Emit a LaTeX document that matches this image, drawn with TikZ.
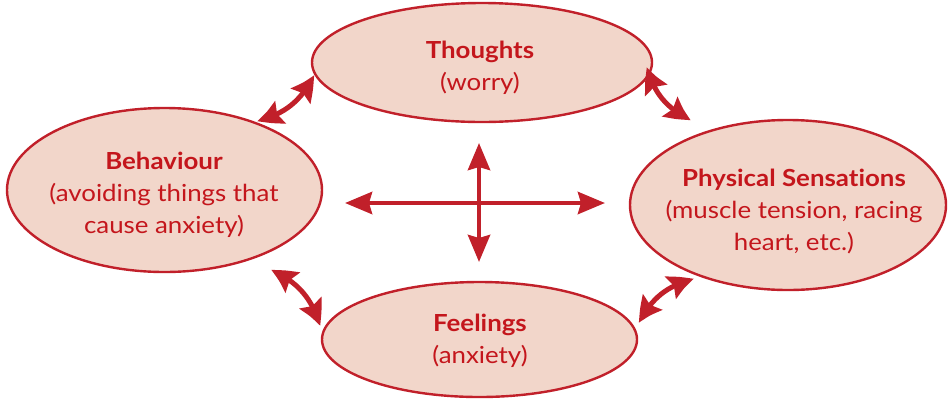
\documentclass[tikz,border=0pt]{standalone}
\usepackage{fontspec}
\setmainfont[Ligatures={NoCommon},FakeStretch=1.1]{Lato}
\usetikzlibrary{shapes.geometric,arrows.meta,bending}
\definecolor{cbtred}{HTML}{C1202A}
\definecolor{cbtfill}{HTML}{F2D6CA}
\definecolor{cbttext}{HTML}{C4161C}
\tikzset{
  bubble/.style={ellipse,draw=cbtred,fill=cbtfill,line width=2.4pt,inner sep=0pt},
  bubbletext/.style={align=center,text=cbttext,font=\fontsize{23.5}{32}\selectfont,inner sep=0pt},
  crossarrow/.style={draw=cbtred,line width=4.5pt,{Stealth[length=27pt,width=22pt,inset=3pt]}-{Stealth[length=27pt,width=22pt,inset=3pt]}},
  curvearrow/.style={draw=cbtred,line width=5pt,{Stealth[length=26pt,width=24pt,inset=4pt,bend]}-{Stealth[length=26pt,width=24pt,inset=4pt,bend]}}
}
\begin{document}
\begin{tikzpicture}[x=1pt,y=-1pt]
\useasboundingbox (0,0) rectangle (949,400);
% ellipses
\node[bubble,minimum width=340pt,minimum height=119pt] (thoughts) at (482,62.5) {};
\node[bubble,minimum width=315pt,minimum height=164pt] (behaviour) at (164.5,190) {};
\node[bubble,minimum width=316pt,minimum height=170pt] (physical) at (788,205) {};
\node[bubble,minimum width=315pt,minimum height=115pt] (feelings) at (479.5,339.5) {};
% texts
\node[bubbletext] (thoughtsT) at (480,68) {\textbf{Thoughts}\\(worry)};
\node[bubbletext] (behaviourT) at (164,195) {\textbf{Behaviour}\\(avoiding things that\\cause anxiety)};
\node[bubbletext] (physicalT) at (794,211) {\textbf{Physical Sensations}\\(muscle tension, racing\\heart, etc.)};
\node[bubbletext] (feelingsT) at (480,341) {\textbf{Feelings}\\(anxiety)};
% cross
\coordinate (cL) at (345,203);
\coordinate (cR) at (605,203);
\coordinate (cT) at (479,143);
\coordinate (cB) at (479,262);
\draw[crossarrow] (cL) -- (cR);
\draw[crossarrow] (cT) -- (cB);
% curved arrows
\coordinate (tlA) at (257,121);
\coordinate (tlB) at (314,75);
\coordinate (trA) at (647,67);
\coordinate (trB) at (691,120);
\coordinate (blA) at (271,270);
\coordinate (blB) at (320,326);
\coordinate (brA) at (639,323);
\coordinate (brB) at (694,279);
\draw[curvearrow] (tlA) to[bend right=25] (tlB);
\draw[curvearrow] (trA) to[bend right=25] (trB);
\draw[curvearrow] (blA) to[bend left=25] (blB);
\draw[curvearrow] (brA) to[bend left=25] (brB);
\end{tikzpicture}
\end{document}
